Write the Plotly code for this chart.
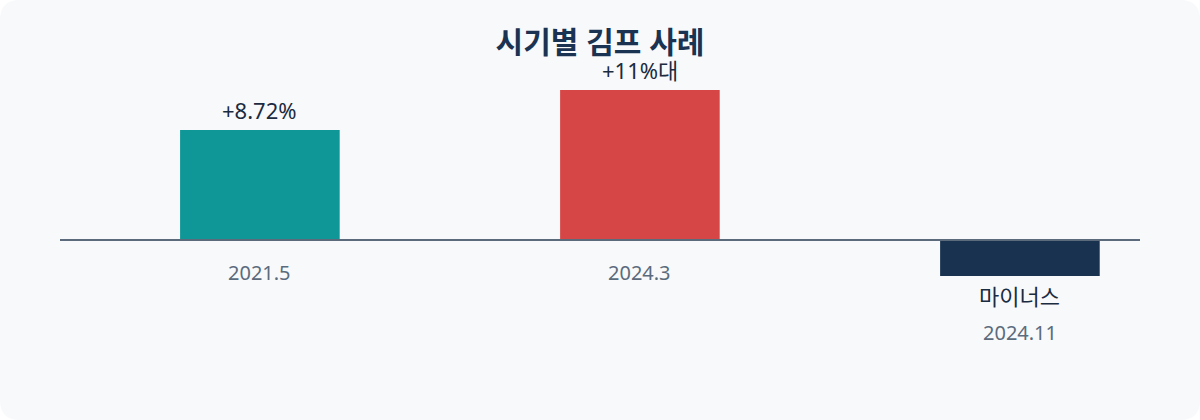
import plotly.graph_objects as go

# data
periods = ["2021.5", "2024.3", "2024.11"]
premium = [8.72, 11.9, -2.85]
bar_labels = ["+8.72%", "+11%대", "마이너스"]
bar_colors = ["#0f9696", "#d64646", "#18324f"]

W, H = 1200, 420
ML, MR, MT, MB = 60, 60, 60, 60
FONT = "Noto Sans, Noto Sans CJK KR, sans-serif"


def px_x(px):
    return (px - ML) / (W - ML - MR)


def px_y(py):
    return (H - MB - py) / (H - MT - MB)


def rounded_card(r=20):
    x0, x1 = px_x(0), px_x(W)
    y0, y1 = px_y(H), px_y(0)
    rx = r / (W - ML - MR)
    ry = r / (H - MT - MB)
    return (f"M {x0 + rx},{y1} L {x1 - rx},{y1} Q {x1},{y1} {x1},{y1 - ry} "
            f"L {x1},{y0 + ry} Q {x1},{y0} {x1 - rx},{y0} "
            f"L {x0 + rx},{y0} Q {x0},{y0} {x0},{y0 + ry} "
            f"L {x0},{y1 - ry} Q {x0},{y1} {x0 + rx},{y1} Z")


fig = go.Figure(go.Bar(
    x=list(range(len(periods))),
    y=premium,
    width=0.42,
    marker=dict(color=bar_colors, line=dict(width=0)),
    hoverinfo="skip",
))

for i, (p, v, lab) in enumerate(zip(periods, premium, bar_labels)):
    # value label just past the end of the bar
    fig.add_annotation(
        x=i, y=v, yshift=20 if v >= 0 else -20,
        text=lab, showarrow=False, yanchor="middle",
        font=dict(size=22, color="#1b2b40", family=FONT),
    )
    # period label under the zero line, or under the bar when it goes negative
    fig.add_annotation(
        x=i, y=min(v, 0), yshift=-32 if v >= 0 else -57,
        text=p, showarrow=False, yanchor="middle",
        font=dict(size=20, color="#5b6b7b", family=FONT),
    )

fig.add_shape(type="path", path=rounded_card(), xref="paper", yref="paper",
              fillcolor="#f7f9fb", line=dict(width=0), layer="below")
fig.add_shape(type="line", xref="paper", yref="y", x0=0, x1=1, y0=0, y1=0,
              line=dict(color="#5b6b7b", width=2))

fig.update_layout(
    width=W, height=H,
    margin=dict(l=ML, r=MR, t=MT, b=MB),
    paper_bgcolor="white",
    plot_bgcolor="rgba(0,0,0,0)",
    title=dict(text="<b>시기별 김프 사례</b>", x=0.5, xanchor="center",
               y=1 - 42 / H, yanchor="middle",
               font=dict(size=30, color="#1b3352", family=FONT)),
    showlegend=False,
    xaxis=dict(range=[-0.526, 2.316], showticklabels=False,
               showgrid=False, zeroline=False, showline=False, fixedrange=True),
    yaxis=dict(range=[-9.51, 14.27], showticklabels=False, showgrid=False,
               zeroline=False, showline=False, fixedrange=True),
)

fig.write_html("out.html", config={"displayModeBar": False},
               post_script="document.body.style.margin='0';")
